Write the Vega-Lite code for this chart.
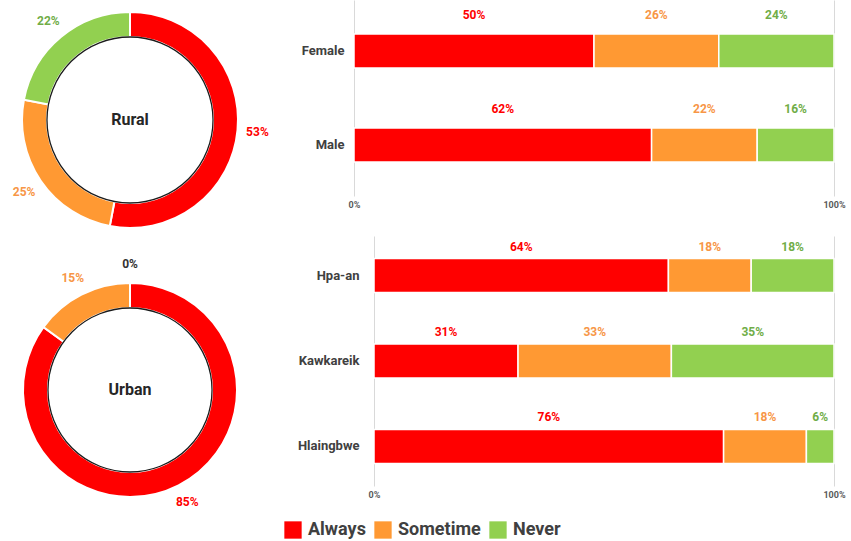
{
  "$schema": "https://vega.github.io/schema/vega-lite/v6.json",
  "padding": 0,
  "background": "white",
  "datasets": {
    "rural": [
      {"area": "Rural", "cat": "Always", "k": 1, "v": 0.53},
      {"area": "Rural", "cat": "Sometime", "k": 2, "v": 0.25},
      {"area": "Rural", "cat": "Never", "k": 3, "v": 0.22}
    ],
    "urban": [
      {"area": "Urban", "cat": "Always", "k": 1, "v": 0.85},
      {"area": "Urban", "cat": "Sometime", "k": 2, "v": 0.15},
      {"area": "Urban", "cat": "Never", "k": 3, "v": 0}
    ],
    "ruralCenter": [{"area": "Rural", "whole": 1}],
    "urbanCenter": [{"area": "Urban", "whole": 1}],
    "gender": [
      {"group": "Female", "cat": "Always", "k": 1, "v": 0.50},
      {"group": "Female", "cat": "Sometime", "k": 2, "v": 0.26},
      {"group": "Female", "cat": "Never", "k": 3, "v": 0.24},
      {"group": "Male", "cat": "Always", "k": 1, "v": 0.62},
      {"group": "Male", "cat": "Sometime", "k": 2, "v": 0.22},
      {"group": "Male", "cat": "Never", "k": 3, "v": 0.16}
    ],
    "district": [
      {"group": "Hpa-an", "cat": "Always", "k": 1, "v": 0.64},
      {"group": "Hpa-an", "cat": "Sometime", "k": 2, "v": 0.18},
      {"group": "Hpa-an", "cat": "Never", "k": 3, "v": 0.18},
      {"group": "Kawkareik", "cat": "Always", "k": 1, "v": 0.31},
      {"group": "Kawkareik", "cat": "Sometime", "k": 2, "v": 0.33},
      {"group": "Kawkareik", "cat": "Never", "k": 3, "v": 0.35},
      {"group": "Hlaingbwe", "cat": "Always", "k": 1, "v": 0.76},
      {"group": "Hlaingbwe", "cat": "Sometime", "k": 2, "v": 0.18},
      {"group": "Hlaingbwe", "cat": "Never", "k": 3, "v": 0.06}
    ]
  },
  "hconcat": [
    {
      "bounds": "flush",
      "spacing": 35,
      "vconcat": [
        {
          "width": 260,
          "height": 240,
          "layer": [
            {
              "data": {"name": "rural"},
              "mark": {"type": "arc", "outerRadius": 108, "innerRadius": 83, "stroke": "white", "strokeWidth": 2},
              "encoding": {
                "theta": {"field": "v", "type": "quantitative", "stack": true},
                "order": {"field": "k", "type": "quantitative"},
                "color": {"field": "cat", "type": "nominal", "title": null, "scale": {"domain": ["Always", "Sometime", "Never"], "range": ["#ff0000", "#ff9933", "#92d050"]}}
              }
            },
            {
              "data": {"name": "rural"},
              "mark": {"type": "text", "radius": 128, "fontSize": 12, "fontWeight": "bold", "font": "Roboto"},
              "encoding": {
                "theta": {"field": "v", "type": "quantitative", "stack": true},
                "order": {"field": "k", "type": "quantitative"},
                "text": {"field": "v", "type": "quantitative", "format": ".0%"},
                "fill": {"field": "cat", "type": "nominal", "scale": {"domain": ["Never", "Sometime", "Always"], "range": ["#70ad47", "#f79646", "#ff0000"]}, "legend": null}
              }
            },
            {
              "data": {"name": "ruralCenter"},
              "mark": {"type": "arc", "outerRadius": 83, "innerRadius": 0, "fill": "white", "stroke": "#1a1a1a", "strokeWidth": 1.3},
              "encoding": {"theta": {"field": "whole", "type": "quantitative"}}
            },
            {
              "data": {"name": "ruralCenter"},
              "mark": {"type": "text", "fontSize": 16, "fontWeight": "bold", "color": "#262626", "font": "Roboto"},
              "encoding": {"text": {"field": "area", "type": "nominal"}}
            }
          ],
          "resolve": {"scale": {"theta": "independent"}}
        },
        {
          "width": 260,
          "height": 230,
          "layer": [
            {
              "data": {"name": "urban"},
              "mark": {"type": "arc", "outerRadius": 107, "innerRadius": 82, "stroke": "white", "strokeWidth": 2},
              "encoding": {
                "theta": {"field": "v", "type": "quantitative", "stack": true},
                "order": {"field": "k", "type": "quantitative"},
                "color": {"field": "cat", "type": "nominal", "title": null, "scale": {"domain": ["Always", "Sometime", "Never"], "range": ["#ff0000", "#ff9933", "#92d050"]}}
              }
            },
            {
              "data": {"name": "urban"},
              "mark": {"type": "text", "radius": 126, "fontSize": 12, "fontWeight": "bold", "font": "Roboto"},
              "encoding": {
                "theta": {"field": "v", "type": "quantitative", "stack": true},
                "order": {"field": "k", "type": "quantitative"},
                "text": {"field": "v", "type": "quantitative", "format": ".0%"},
                "fill": {
                  "condition": {"test": "datum.v === 0", "value": "#333333"},
                  "field": "cat", "type": "nominal", "scale": {"domain": ["Never", "Sometime", "Always"], "range": ["#70ad47", "#f79646", "#ff0000"]}, "legend": null
                }
              }
            },
            {
              "data": {"name": "urbanCenter"},
              "mark": {"type": "arc", "outerRadius": 82, "innerRadius": 0, "fill": "white", "stroke": "#1a1a1a", "strokeWidth": 1.3},
              "encoding": {"theta": {"field": "whole", "type": "quantitative"}}
            },
            {
              "data": {"name": "urbanCenter"},
              "mark": {"type": "text", "fontSize": 16, "fontWeight": "bold", "color": "#262626", "font": "Roboto"},
              "encoding": {"text": {"field": "area", "type": "nominal"}}
            }
          ],
          "resolve": {"scale": {"theta": "independent"}}
        }
      ]
    },
    {
      "bounds": "full",
      "spacing": 27,
      "vconcat": [
        {
          "data": {"name": "gender"},
          "width": 480,
          "height": 196,
          "encoding": {
            "y": {
              "field": "group", "type": "nominal", "sort": ["Female", "Male"], "title": null,
              "scale": {"paddingInner": 0.638, "paddingOuter": 0.362},
              "axis": {"domain": false, "ticks": false, "labelPadding": 10, "labelFontSize": 13, "labelFontWeight": "bold", "labelColor": "#404040", "labelFont": "Roboto"}
            },
            "x": {
              "field": "v", "type": "quantitative", "stack": "normalize", "title": null,
              "scale": {"domain": [0, 1], "nice": false},
              "axis": {"values": [0, 1], "format": ".0%", "domain": false, "ticks": false, "grid": true, "gridColor": "#d9d9d9", "labelFontSize": 9, "labelFontWeight": "bold", "labelColor": "#595959", "labelPadding": 4, "labelFlush": false, "labelFont": "Roboto"}
            },
            "order": {"field": "k", "type": "quantitative"},
            "color": {"field": "cat", "type": "nominal", "title": null, "scale": {"domain": ["Always", "Sometime", "Never"], "range": ["#ff0000", "#ff9933", "#92d050"]}}
          },
          "layer": [
            {"mark": {"type": "bar", "stroke": "white", "strokeWidth": 1.5}},
            {
              "mark": {"type": "text", "dy": -36, "fontSize": 12, "fontWeight": "bold", "font": "Roboto"},
              "encoding": {
                "x": {"field": "v", "type": "quantitative", "stack": "normalize", "bandPosition": 0.5},
                "text": {"field": "v", "type": "quantitative", "format": ".0%"},
                "color": null,
                "fill": {"field": "cat", "type": "nominal", "scale": {"domain": ["Never", "Sometime", "Always"], "range": ["#70ad47", "#f79646", "#ff0000"]}, "legend": null}
              }
            }
          ]
        },
        {
          "data": {"name": "district"},
          "width": 480,
          "height": 250,
          "encoding": {
            "y": {
              "field": "group", "type": "nominal", "sort": ["Hpa-an", "Kawkareik", "Hlaingbwe"], "title": null,
              "scale": {"paddingInner": 0.602, "paddingOuter": 0.263},
              "axis": {"domain": false, "ticks": false, "labelPadding": -5, "labelFontSize": 13, "labelFontWeight": "bold", "labelColor": "#404040", "labelFont": "Roboto"}
            },
            "x": {
              "field": "v", "type": "quantitative", "stack": "normalize", "title": null,
              "scale": {"domain": [-0.0435, 1], "nice": false, "zero": false},
              "axis": {"values": [0, 1], "format": ".0%", "domain": false, "ticks": false, "grid": true, "gridColor": "#d9d9d9", "labelFontSize": 9, "labelFontWeight": "bold", "labelColor": "#595959", "labelPadding": 4, "labelFlush": false, "labelFont": "Roboto"}
            },
            "order": {"field": "k", "type": "quantitative"},
            "color": {"field": "cat", "type": "nominal", "title": null, "scale": {"domain": ["Always", "Sometime", "Never"], "range": ["#ff0000", "#ff9933", "#92d050"]}}
          },
          "layer": [
            {"mark": {"type": "bar", "stroke": "white", "strokeWidth": 1.5}},
            {
              "mark": {"type": "text", "dy": -29, "fontSize": 12, "fontWeight": "bold", "font": "Roboto"},
              "encoding": {
                "x": {"field": "v", "type": "quantitative", "stack": "normalize", "bandPosition": 0.5},
                "text": {"field": "v", "type": "quantitative", "format": ".0%"},
                "color": null,
                "fill": {"field": "cat", "type": "nominal", "scale": {"domain": ["Never", "Sometime", "Always"], "range": ["#70ad47", "#f79646", "#ff0000"]}, "legend": null}
              }
            }
          ]
        }
      ]
    }
  ],
  "spacing": 28,
  "config": {
    "view": {"stroke": null},
    "legend": {
      "orient": "bottom", "direction": "horizontal", "symbolType": "square", "symbolSize": 300, "symbolStrokeWidth": 0,
      "labelFontSize": 18, "labelFontWeight": "bold", "labelColor": "#404040", "labelFont": "Roboto",
      "labelOffset": 6, "columnPadding": 8, "offset": 12,
      "layout": {"bottom": {"anchor": "middle"}}
    }
  }
}
